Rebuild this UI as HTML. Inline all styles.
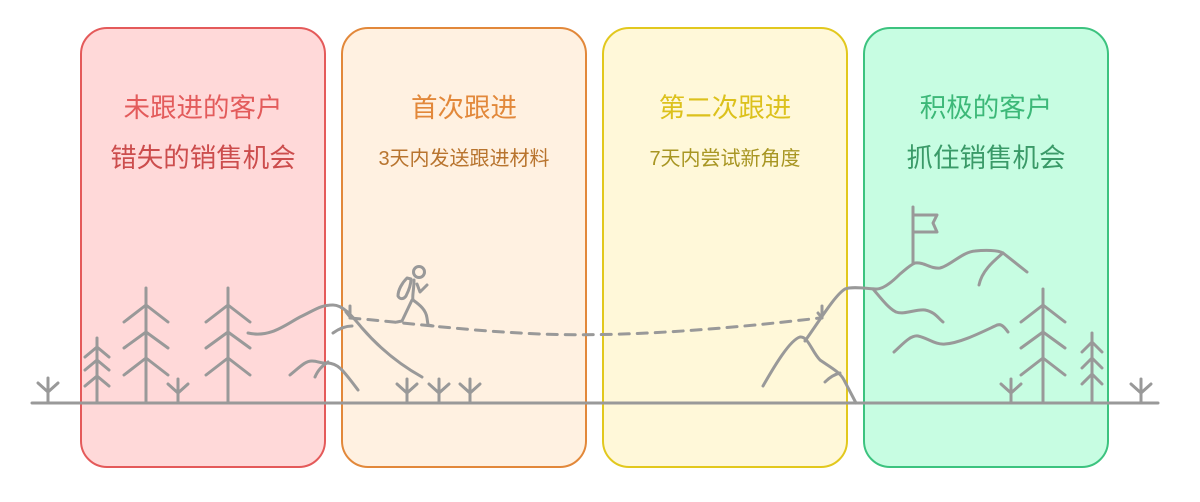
<!DOCTYPE html>
<html><head><meta charset="utf-8"><style>
html,body{margin:0;padding:0;background:#fff;}
svg{display:block;}
text{font-family:"Liberation Sans","Noto Sans CJK SC",sans-serif;text-anchor:middle;}
</style></head><body>
<svg width="1200" height="502" viewBox="0 0 1200 502" xmlns="http://www.w3.org/2000/svg">
<rect x="81" y="28" width="244" height="439" rx="26" fill="#ffd9d9" stroke="#e45a5a" stroke-width="2"/>
<rect x="342" y="28" width="244" height="439" rx="26" fill="#fff1e1" stroke="#e2883a" stroke-width="2"/>
<rect x="603" y="28" width="244" height="439" rx="26" fill="#fff8d9" stroke="#e2c81e" stroke-width="2"/>
<rect x="864" y="28" width="244" height="439" rx="26" fill="#c7fde2" stroke="#3cc37f" stroke-width="2"/>

<text x="203" y="117" font-size="26.5" fill="#e35b5b">未跟进的客户</text>
<text x="203" y="167" font-size="26.5" fill="#cc4d4d">错失的销售机会</text>
<text x="464" y="117" font-size="26.5" fill="#e2883a">首次跟进</text>
<text x="464" y="165" font-size="20" fill="#b8742e">3天内发送跟进材料</text>
<text x="725" y="117" font-size="26.5" fill="#dcc11c">第二次跟进</text>
<text x="725" y="165" font-size="20" fill="#a89623">7天内尝试新角度</text>
<text x="986" y="117" font-size="26.5" fill="#3cb878">积极的客户</text>
<text x="986" y="167" font-size="26.5" fill="#3a9a68">抓住销售机会</text>

<g fill="none" stroke="#999" stroke-width="3" stroke-linecap="round" stroke-linejoin="round">
<line x1="32" y1="403" x2="1158" y2="403"/>
<path d="M48 403V378M38 383L48 392L58 383"/>
<path d="M178 403V379M168 384L178 393L188 384"/>
<path d="M407 403V379M397 384L407 393L417 384"/>
<path d="M439 403V379M429 384L439 393L449 384"/>
<path d="M470 403V379M460 384L470 393L480 384"/>
<path d="M1011 403V379M1001 384L1011 393L1021 384"/>
<path d="M1141 403V379M1131 384L1141 393L1151 384"/>
<path d="M97 403V338M85 357L97 347L109 357M85 370L97 360L109 370M85 386L97 376L109 386"/>
<path d="M1092 403V333M1082 352L1092 342L1102 352M1082 368L1092 358L1102 368M1082 384L1092 374L1102 384"/>
<path d="M146 403V288M124 322L146 305L168 322M124 348L146 332L168 348M124 375L146 358L168 375"/>
<path d="M228 403V288M206 322L228 305L250 322M206 348L228 332L250 348M206 375L228 358L250 375"/>
<path d="M1043 403V289M1021 322L1043 305L1065 322M1021 348L1043 332L1065 348M1021 375L1043 358L1065 375"/>
<path d="M248 333C270 338 285 325 300 317C315 310 320 305 333 305C343 305 352 316 362 328C375 343 395 362 422 377"/>
<path d="M333 333C340 328 347 326 352 326"/>
<path d="M290 375C300 367 305 361 312 361C318 361 322 364 327 363C338 363 343 370 358 390"/>
<path d="M315 377C318 370 322 366 328 362"/>
<path d="M350 306V317M346 312L350 317"/>
<path d="M350 318C400 322 460 330 520 333C600 338 700 332 820 318" stroke-dasharray="10 8"/>
<path d="M822 306V318M818 313L822 318"/>
<path d="M763 386C775 365 790 340 800 337C808 336 812 352 820 360C830 367 840 372 844 380L856 403"/>
<path d="M825 382C830 377 836 374 840 373"/>
<path d="M805 341C820 320 835 295 845 289C852 286 870 289 877 289C882 289 890 284 900 274C905 270 910 265 915 263C925 262 930 269 940 268C950 266 962 252 975 251C985 250 998 250 1003 253L1027 272"/>
<path d="M1003 253C995 260 982 270 979 285"/>
<path d="M873 289C880 297 888 308 896 312C905 315 915 309 925 310C935 312 938 318 943 322"/>
<path d="M894 352C902 345 910 335 918 336C928 338 935 345 945 344C960 343 980 333 995 326C1000 323 1003 325 1008 332"/>
<path d="M913 263V207M913 215H937L933 223L937 232H913"/>
<circle cx="419" cy="272" r="5.5"/>
<path d="M414 280C414 290 412 296 413 300"/>
<path d="M412 300L402 321L397 322"/>
<path d="M413 300C420 305 426 310 427 318L428 325L433 326"/>
<path d="M417 284L420 292L427 285"/>
<path d="M407 278C402 283 398 290 398 296C400 300 404 299 406 296C409 290 411 283 411 279Z"/>
</g>
</svg>
</body></html>
